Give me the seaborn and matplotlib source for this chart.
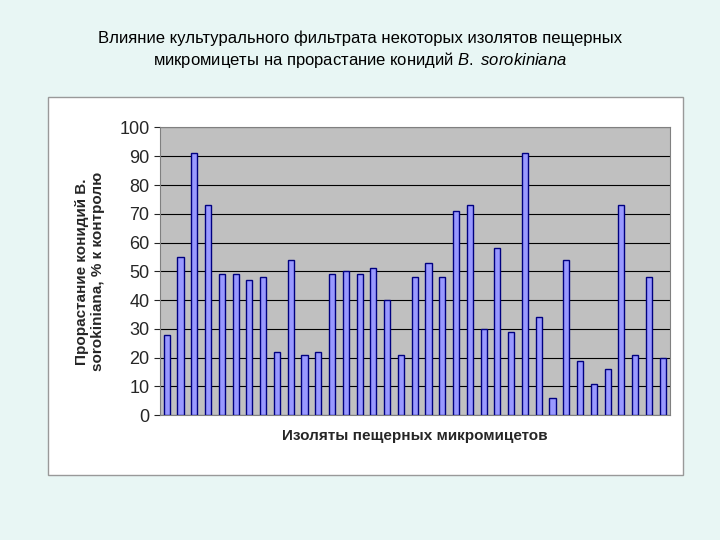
import matplotlib
matplotlib.use("Agg")
import matplotlib.pyplot as plt
import matplotlib.patches as mpatches
import seaborn as sns
import pandas as pd

isolates = list(range(1, 38))
values = [28, 55, 91, 73, 49, 49, 47, 48, 22, 54, 21, 22, 49, 50, 49, 51, 40, 21,
          48, 53, 48, 71, 73, 30, 58, 29, 91, 34, 6, 54, 19, 11, 16, 73, 21, 48, 20]
yticks = [0, 10, 20, 30, 40, 50, 60, 70, 80, 90, 100]

df = pd.DataFrame({"isolate": [str(i) for i in isolates], "value": values})

sns.set_style("white")
plt.rcParams['font.family'] = ['Liberation Sans', 'DejaVu Sans']
plt.rcParams['mathtext.fontset'] = 'custom'
plt.rcParams['mathtext.it'] = 'Liberation Sans:italic'
plt.rcParams['mathtext.rm'] = 'Liberation Sans'

fig = plt.figure(figsize=(7.2, 5.4), dpi=100)
fig.patch.set_facecolor("#e8f6f4")
fig.patches.append(mpatches.Rectangle((0.067, 0.120), 0.881, 0.700, transform=fig.transFigure,
                                      facecolor="white", edgecolor="#999999", lw=1, zorder=-5))

ax = fig.add_axes([0.222, 0.231, 0.708, 0.533])
ax.set_facecolor("#c0c0c0")
sns.barplot(data=df, x="isolate", y="value", ax=ax, color="#9999ff",
            edgecolor="#000080", linewidth=1, width=0.45, saturation=1, zorder=3)
ax.set_ylim(0, 100)
ax.set_yticks(yticks)
ax.tick_params(axis="y", labelsize=13, length=4, left=True, direction="out")
ax.set_xticks([])
ax.grid(axis="y", color="black", lw=0.8, zorder=0)
ax.set_axisbelow(True)
for s in ax.spines.values():
    s.set_color("#808080")
ax.set_xlabel("Изоляты пещерных микромицетов", fontsize=11, fontweight="bold", labelpad=10)
ax.set_ylabel("Прорастание конидий B.\nsorokiniana, % к контролю", fontsize=11,
              fontweight="bold", labelpad=10)

fig.text(0.5, 0.92, "Влияние культурального фильтрата некоторых изолятов пещерных",
         ha="center", fontsize=12, color="black")
fig.text(0.5, 0.88, "микромицеты на прорастание конидий $\\it{B.\\ sorokiniana}$",
         ha="center", fontsize=12, color="black")

fig.savefig("out.png", dpi=100, facecolor=fig.get_facecolor())
